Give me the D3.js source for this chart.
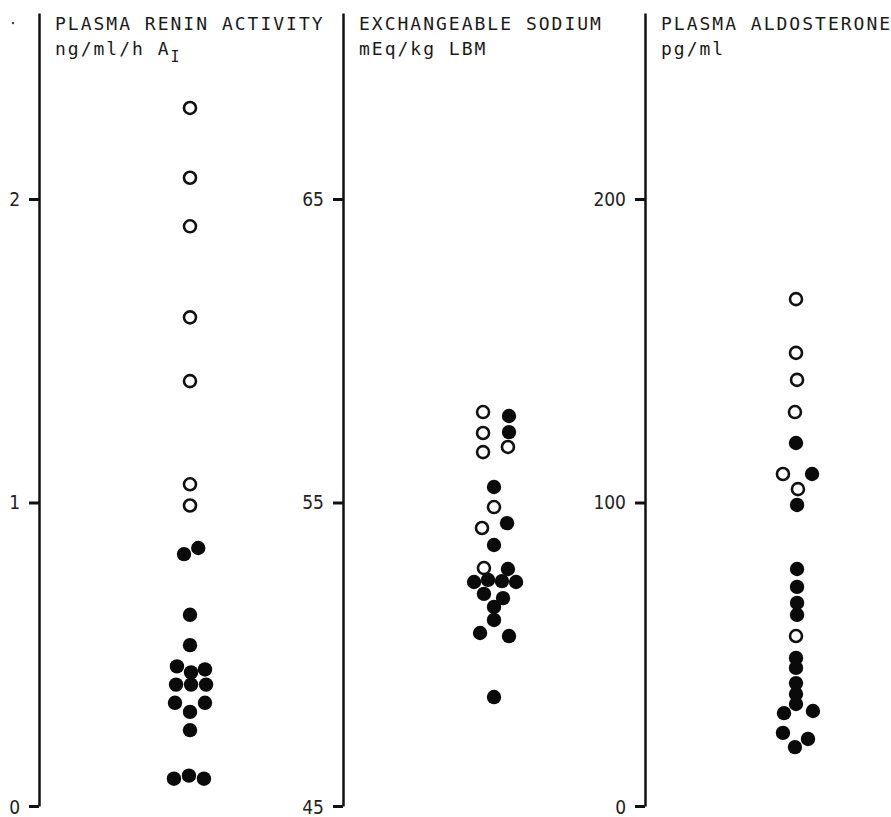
<!DOCTYPE html>
<html>
<head>
<meta charset="utf-8">
<script src="https://cdn.jsdelivr.net/npm/d3@7"></script>
<style>
  html, body { margin: 0; padding: 0; background: #fff; }
  svg { display: block; }
</style>
</head>
<body>
<svg id="chart" width="891" height="817"></svg>
<script>
// ---------------- DATA ----------------
const panelTitles = ["PLASMA RENIN ACTIVITY", "EXCHANGEABLE SODIUM", "PLASMA ALDOSTERONE"];
const panelUnits = ["ng/ml/h A", "mEq/kg LBM", "pg/ml"];
const panelUnitSub = ["I", "", ""];
const tickValues1 = [0, 1, 2];
const tickValues2 = [45, 55, 65];
const tickValues3 = [0, 100, 200];

// Plasma renin activity (ng/ml/h AI)
const renin =      [2.30, 2.07, 1.91, 1.61, 1.40, 1.06, 0.99,
                    0.83, 0.85, 0.63, 0.53, 0.46, 0.45, 0.44, 0.40, 0.40, 0.40, 0.34, 0.34, 0.31, 0.25, 0.09, 0.10, 0.09];
const reninFilled = [0, 0, 0, 0, 0, 0, 0,
                    1, 1, 1, 1, 1, 1, 1, 1, 1, 1, 1, 1, 1, 1, 1, 1, 1];
const reninSlot =  [0, 0, 0, 0, 0, 0, 0,
                    -0.4, 0.55, 0, 0, -0.87, 1, 0.07, -0.93, 0.07, 1.07, -1, 1, 0, 0, -1.07, -0.07, 0.93];

// Exchangeable sodium (mEq/kg LBM)
const sodium =      [57.98, 57.85, 57.29, 57.32, 56.66, 56.83, 55.51, 54.85, 54.32, 54.16, 53.60, 52.84,
                     52.81, 52.38, 52.45, 52.41, 52.38, 51.99, 51.85, 51.56, 51.13, 50.70, 50.60, 48.59];
const sodiumFilled = [0, 1, 0, 1, 0, 0, 1, 0, 1, 0, 1, 0,
                     1, 1, 1, 1, 1, 1, 1, 1, 1, 1, 1, 1];
const sodiumSlot =  [-0.73, 1, -0.73, 1, -0.73, 0.93, 0, 0, 0.87, -0.8, 0, -0.67,
                     0.93, -1.33, -0.4, 0.53, 1.47, -0.67, 0.6, 0, 0, -0.93, 1, 0];

// Plasma aldosterone (pg/ml)
const aldo =       [167.0, 149.3, 140.4, 129.8, 119.6, 109.4, 109.4, 104.4, 99.2, 78.1, 72.2, 66.9,
                    63.0, 56.0, 48.8, 45.5, 40.5, 36.9, 33.6, 30.6, 31.3, 24.1, 22.1, 19.4];
const aldoFilled = [0, 0, 0, 0, 1, 0, 1, 0, 1, 1, 1, 1,
                    1, 0, 1, 1, 1, 1, 1, 1, 1, 1, 1, 1];
const aldoSlot =   [0, 0, 0.07, -0.07, 0, -0.87, 1.07, 0.13, 0.07, 0.07, 0.07, 0.07,
                    0.07, 0, 0, 0, 0, 0, 0, -0.8, 1.13, -0.87, 0.8, -0.07];

// ---------------- LAYOUT ----------------
const svg = d3.select("#chart");
const axisX = [39, 343, 645];
const yBottom = 806, yTickTop = 199, yLineTop = 13;
const centerOffset = 151;
const slotPx = 15;
const FONT_TXT = "'DejaVu Sans Mono', 'Liberation Mono', monospace";
const FONT_TICK = "'Liberation Sans Narrow', 'DejaVu Sans Condensed', sans-serif";

const panels = [
  { vals: renin, filled: reninFilled, slot: reninSlot, ticks: tickValues1 },
  { vals: sodium, filled: sodiumFilled, slot: sodiumSlot, ticks: tickValues2 },
  { vals: aldo, filled: aldoFilled, slot: aldoSlot, ticks: tickValues3 }
];

// small stray mark at top-left of the original figure
svg.append("circle").attr("cx", 13).attr("cy", 23).attr("r", 1.2).attr("fill", "#444");

panels.forEach((p, i) => {
  const lo = p.ticks[0], hi = p.ticks[p.ticks.length - 1];
  const top = lo + (hi - lo) * (yBottom - yLineTop) / (yBottom - yTickTop);
  const y = d3.scaleLinear().domain([lo, top]).range([yBottom, yLineTop]);
  const cx = axisX[i] + centerOffset;
  const x = d3.scaleLinear().domain([-1, 1]).range([cx - slotPx, cx + slotPx]);

  const g = svg.append("g");

  // axis
  const ax = g.append("g")
    .attr("transform", `translate(${axisX[i]},0)`)
    .call(d3.axisLeft(y).tickValues(p.ticks).tickSize(10).tickSizeOuter(0).tickPadding(9).tickFormat(d3.format("d")));
  ax.select(".domain").attr("stroke", "#111").attr("stroke-width", 2.5);
  ax.selectAll(".tick line").attr("stroke", "#111").attr("stroke-width", 3);
  ax.selectAll(".tick text")
    .attr("fill", "#222")
    .style("font-family", FONT_TICK)
    .style("font-size", "19px")
    .attr("dy", d => d === lo ? "0.42em" : "0.34em");

  // titles
  g.append("text")
    .attr("x", axisX[i] + 16).attr("y", 30)
    .style("font-family", FONT_TXT).style("font-size", "18px").style("letter-spacing", "2px")
    .attr("fill", "#1a1a1a")
    .text(panelTitles[i]);
  const t2 = g.append("text")
    .attr("x", axisX[i] + 16).attr("y", 55)
    .style("font-family", FONT_TXT).style("font-size", "18px").style("letter-spacing", "2px")
    .attr("fill", "#1a1a1a")
    .text(panelUnits[i]);
  if (panelUnitSub[i]) {
    t2.append("tspan").attr("dy", 7).style("font-size", "15px").text(panelUnitSub[i]);
  }

  const pts = p.vals.map((v, k) => ({ v, f: p.filled[k], s: p.slot[k] }));

  // open circles first
  g.selectAll("circle.open")
    .data(pts.filter(d => !d.f))
    .join("circle")
    .attr("class", "open")
    .attr("cx", d => x(d.s))
    .attr("cy", d => y(d.v))
    .attr("r", 6)
    .attr("fill", "none")
    .attr("stroke", "#111")
    .attr("stroke-width", 2.6);

  g.selectAll("circle.filled")
    .data(pts.filter(d => d.f))
    .join("circle")
    .attr("class", "filled")
    .attr("cx", d => x(d.s))
    .attr("cy", d => y(d.v))
    .attr("r", 7.2)
    .attr("fill", "#0a0a0a");
});
</script>
</body>
</html>
